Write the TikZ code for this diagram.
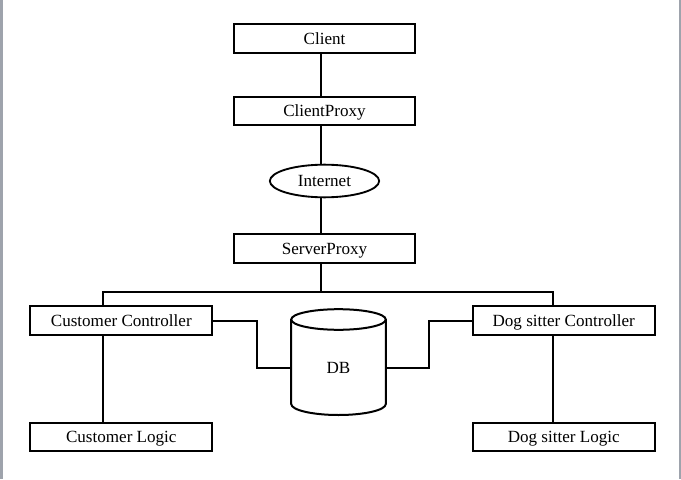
\documentclass[tikz,border=0pt]{standalone}
\usepackage{fontspec}
\setmainfont{Liberation Serif}
\usetikzlibrary{shapes.geometric}
\definecolor{edgegray}{RGB}{158,163,172}
\begin{document}
\begin{tikzpicture}[x=0.75pt,y=0.75pt,
box/.style={draw, line width=1.4pt, minimum width=136pt, minimum height=21.5pt, inner sep=0pt, text height=8.8pt, text depth=0pt, font=\fontsize{12.8}{14}\selectfont},
link/.style={line width=1.5pt}]
\useasboundingbox (0,0) rectangle (681,479);
\fill[edgegray] (0,0) rectangle (3,479);
\fill[edgegray] (679,0) rectangle (680.5,479);
% upper chain
\node[box] (client) at (324.5,440.5) {Client};
\node[box] (cproxy) at (324.5,368) {ClientProxy};
\node[box, ellipse, minimum width=82pt, minimum height=24.5pt] (internet) at (324.5,298) {Internet};
\node[box] (sproxy) at (324.5,230.3) {ServerProxy};
\coordinate (axis) at (321,0);
\draw[link] (client.south -| axis) -- (cproxy.north -| axis);
\draw[link] (cproxy.south -| axis) -- (internet.north -| axis);
\draw[link] (internet.south -| axis) -- (sproxy.north -| axis);
% controllers and logic
\node[box, minimum width=136.5pt] (cctrl) at (121.3,158.5) {Customer Controller};
\node[box, minimum width=136.5pt] (dctrl) at (563.7,158.5) {Dog sitter Controller};
\node[box, minimum width=136.5pt] (clogic) at (121.3,42) {Customer Logic};
\node[box, minimum width=136.5pt] (dlogic) at (563.7,42) {Dog sitter Logic};
\coordinate (busL) at (103.3,187);
\coordinate (busR) at (552.8,187);
\draw[link] (sproxy.south -| axis) -- (busL -| axis);
\draw[link] (busL |- cctrl.north) -- (busL) -- (busR) -- (busR |- dctrl.north);
\draw[link] (busL |- cctrl.south) -- (busL |- clogic.north);
\draw[link] (busR |- dctrl.south) -- (busR |- dlogic.north);
% database
\draw[link] (291.2,159.5) -- (291.2,75) arc[start angle=180,end angle=360,x radius=47.3,y radius=11] -- (385.8,159.5);
\draw[link] (338.5,159.5) ellipse[x radius=47.3,y radius=10.3];
\node[minimum width=71pt, minimum height=60pt, inner sep=0pt, font=\fontsize{12.8}{14}\selectfont] (db) at (338.5,111.5) {DB};
\draw[link] (cctrl.east) -- ++(43.5,0) |- (db.west);
\draw[link] (dctrl.west) -- ++(-43,0) |- (db.east);
\end{tikzpicture}
\end{document}
